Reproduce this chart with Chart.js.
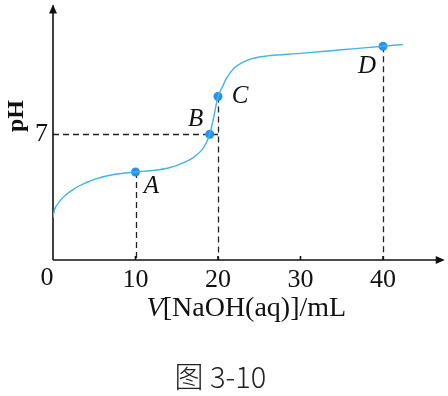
<!DOCTYPE html>
<html>
<head>
<meta charset="utf-8">
<script src="https://cdn.jsdelivr.net/npm/chart.js@4.4.1/dist/chart.umd.min.js"></script>
<style>
  html, body { margin: 0; padding: 0; background: #fff; }
  #wrap { width: 448px; height: 396px; }
</style>
</head>
<body>
<div id="wrap"><canvas id="titration" width="448" height="396"></canvas></div>
<script>
// titration curve
let volume = [0, 0.15, 0.65, 1.5, 2.7, 4, 5.1, 7.5, 10, 12, 14, 16, 17, 18, 18.5, 19, 19.5, 20, 20.5, 21, 22, 23, 24, 26, 30, 35, 40, 42.4]
let ph = [2.35, 2.75, 3.17, 3.6, 4.0, 4.3, 4.5, 4.77, 4.9, 4.98, 5.12, 5.45, 5.7, 6.1, 6.45, 7.0, 8.0, 9.1, 9.6, 10.1, 10.7, 11.0, 11.2, 11.36, 11.5, 11.7, 11.9, 12.0]

// marked points
let pointNames = ['A', 'B', 'C', 'D']
let pointVolume = [10, 19, 20, 40]
let pointPH = [4.9, 7, 9.1, 11.9]

let xTicks = [10, 20, 30, 40]
let yTicks = [7]
let xTitle = ['V', '[NaOH(aq)]/mL']
let yTitle = 'pH'
let caption = '图 3-10'

// where each letter sits relative to its point (px)
let labelOffsets = [[16, 14], [-14, -15], [22, 0], [-16, 20]]

const SERIF = '"Liberation Serif", "DejaVu Serif", serif'

let decorations = {
  id: 'decorations',
  beforeDatasetsDraw(chart) {
    let {ctx, chartArea: a, scales: {x, y}} = chart
    ctx.save()

    // dashed drop lines
    ctx.strokeStyle = '#222'
    ctx.lineWidth = 1.3
    ctx.setLineDash([6, 4])
    ctx.beginPath()
    ;[0, 2, 3].forEach((i) => {
      let px = Math.round(x.getPixelForValue(pointVolume[i])) + 0.5
      ctx.moveTo(px, y.getPixelForValue(pointPH[i]))
      ctx.lineTo(px, a.bottom)
    })
    let py = Math.round(y.getPixelForValue(pointPH[1])) + 0.5
    ctx.moveTo(a.left, py)
    ctx.lineTo(x.getPixelForValue(pointVolume[2]), py)
    ctx.stroke()

    // axes with arrow heads
    ctx.setLineDash([])
    ctx.strokeStyle = '#111'
    ctx.fillStyle = '#111'
    ctx.lineWidth = 1.6
    ctx.beginPath()
    ctx.moveTo(a.left, a.bottom)
    ctx.lineTo(a.right + 2, a.bottom)
    ctx.moveTo(a.left, a.bottom)
    ctx.lineTo(a.left, a.top - 3)
    xTicks.forEach((v) => {
      let px = x.getPixelForValue(v)
      ctx.moveTo(px, a.bottom)
      ctx.lineTo(px, a.bottom - 4)
    })
    ctx.stroke()

    ctx.beginPath()
    ctx.moveTo(a.right + 4, a.bottom)
    ctx.lineTo(a.right - 5, a.bottom - 4)
    ctx.lineTo(a.right - 5, a.bottom + 4)
    ctx.closePath()
    ctx.moveTo(a.left, a.top - 4)
    ctx.lineTo(a.left - 4, a.top + 5)
    ctx.lineTo(a.left + 4, a.top + 5)
    ctx.closePath()
    ctx.fill()
    ctx.restore()
  },
  afterDatasetsDraw(chart) {
    let {ctx, chartArea: a, scales: {x, y}} = chart
    ctx.save()
    ctx.fillStyle = '#111'
    ctx.textAlign = 'center'
    ctx.textBaseline = 'middle'

    // point letters
    ctx.font = `italic 25px ${SERIF}`
    pointNames.forEach((name, i) => {
      ctx.fillText(name,
        x.getPixelForValue(pointVolume[i]) + labelOffsets[i][0],
        y.getPixelForValue(pointPH[i]) + labelOffsets[i][1])
    })

    // origin
    ctx.font = `26px ${SERIF}`
    ctx.fillText('0', a.left - 6, a.bottom + 18)

    // x title, italic V
    ctx.textAlign = 'left'
    ctx.textBaseline = 'alphabetic'
    ctx.font = `italic 28px ${SERIF}`
    let w1 = ctx.measureText(xTitle[0]).width
    ctx.font = `28px ${SERIF}`
    let w2 = ctx.measureText(xTitle[1]).width
    let sx = (a.left + a.right) / 2 - (w1 + w2) / 2
    ctx.font = `italic 28px ${SERIF}`
    ctx.fillText(xTitle[0], sx, a.bottom + 56)
    ctx.font = `28px ${SERIF}`
    ctx.fillText(xTitle[1], sx + w1 - 1, a.bottom + 56)

    // y title
    ctx.translate(17, 116)
    ctx.rotate(-Math.PI / 2)
    ctx.textAlign = 'center'
    ctx.textBaseline = 'middle'
    ctx.font = `bold 24px ${SERIF}`
    ctx.fillText(yTitle, 0, 0)
    ctx.restore()
  },
}

new Chart(document.getElementById('titration'), {
  type: 'scatter',
  data: {
    datasets: [
      {
        data: volume.map((v, i) => ({x: v, y: ph[i]})),
        showLine: true,
        borderColor: '#45b3e7',
        borderWidth: 1.4,
        pointRadius: 0,
        cubicInterpolationMode: 'monotone',
      },
      {
        data: pointVolume.map((v, i) => ({x: v, y: pointPH[i]})),
        showLine: false,
        pointRadius: 4.5,
        backgroundColor: '#2792ea',
        borderWidth: 0,
      },
    ],
  },
  options: {
    responsive: false,
    animation: false,
    devicePixelRatio: 1,
    layout: {padding: {top: 8.5, right: 7.25, left: 0, bottom: 0}},
    plugins: {
      legend: {display: false},
      tooltip: {enabled: false},
      title: {
        display: true,
        position: 'bottom',
        text: caption,
        color: '#222',
        font: {family: '"Noto Sans CJK SC"', size: 29, weight: 300},
        padding: {top: 0, bottom: 2},
      },
    },
    scales: {
      x: {
        type: 'linear',
        min: 0,
        max: 47,
        grid: {display: false, drawTicks: false},
        border: {display: false},
        afterBuildTicks: (s) => { s.ticks = xTicks.map((v) => ({value: v})) },
        afterFit: (s) => { s.height = 99.2; s.paddingLeft = 0; s.paddingRight = 0 },
        ticks: {color: '#111', padding: 5, maxRotation: 0, font: {family: SERIF, size: 26}},
      },
      y: {
        type: 'linear',
        min: 0,
        max: 14,
        grid: {display: false, drawTicks: false},
        border: {display: false},
        afterBuildTicks: (s) => { s.ticks = yTicks.map((v) => ({value: v})) },
        afterFit: (s) => { s.width = 53; s.paddingTop = 0; s.paddingBottom = 0 },
        ticks: {color: '#111', padding: 5, font: {family: SERIF, size: 26}},
      },
    },
  },
  plugins: [decorations],
})
</script>
</body>
</html>
